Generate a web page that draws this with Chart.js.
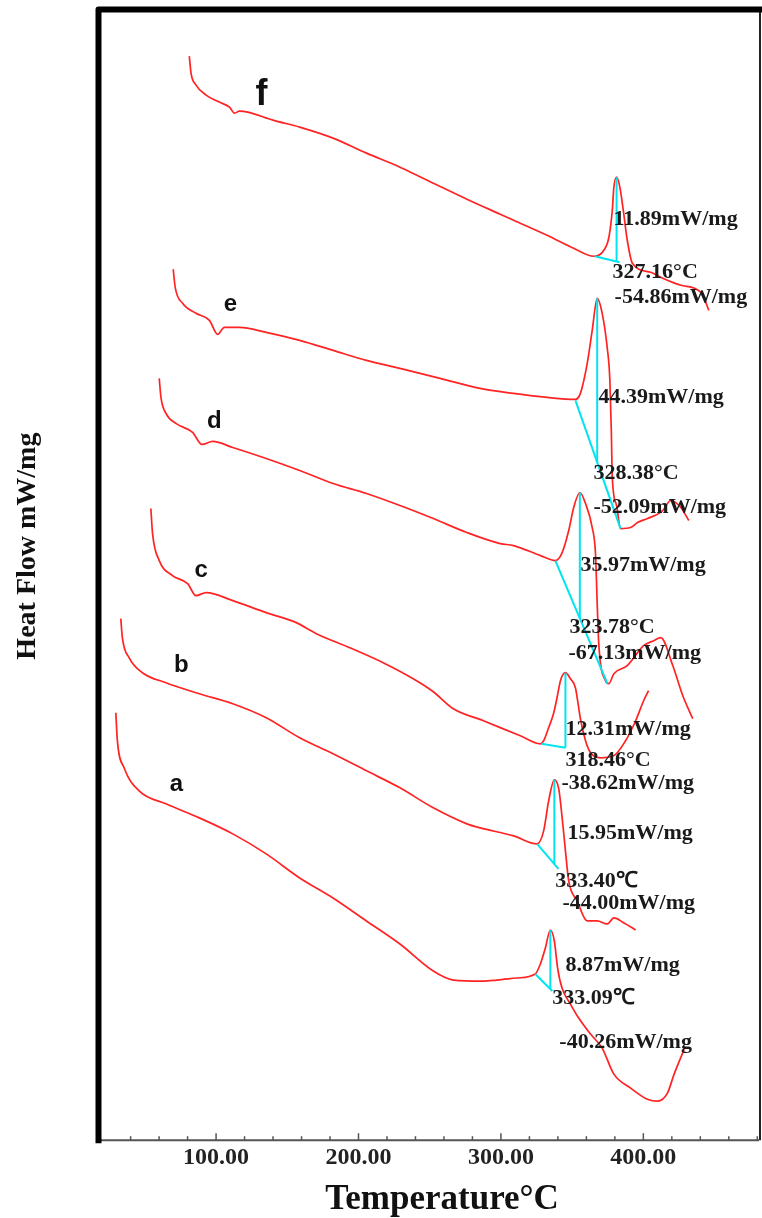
<!DOCTYPE html>
<html>
<head>
<meta charset="utf-8">
<script src="https://cdn.jsdelivr.net/npm/chart.js@4.4.1/dist/chart.umd.min.js"></script>
<style>
	html, body { margin: 0; padding: 0; background: #fff; }
	#dsc { display: block; }
</style>
</head>
<body>
<canvas id="dsc" width="762" height="1218"></canvas>
<script>
// DSC curves a-f, temperature (deg C) vs heat flow (arbitrary offset units)
var tempF = [81.2, 82.4, 85.9, 93.0, 102.3, 109.4, 112.9, 116.4, 122.3, 139.9, 158.7, 182.1, 205.6, 229.1, 252.5, 276.1, 299.5, 308.9, 332.4, 351.1, 365.2, 372.3, 375.8, 378.2, 379.3, 381.2, 383.5, 385.9, 388.7, 392.3, 405.1, 413.6, 426.3, 440.4, 446.0];
var flowF = [1083, 1066, 1054, 1044, 1037, 1032, 1026, 1028, 1027, 1019, 1012, 1001, 986, 972, 956, 940, 925, 919, 904, 891, 883, 889, 902, 929, 952, 962, 952, 929, 899, 876, 867, 861, 854, 847, 829];

var tempE = [69.9, 71.3, 76.5, 85.9, 95.3, 101.1, 105.8, 116.4, 135.2, 158.7, 182.1, 205.6, 229.1, 257.3, 285.4, 308.9, 332.4, 352.3, 355.8, 360.6, 364.1, 367.6, 371.1, 374.6, 376.5, 377.5, 378.2, 381.2, 384.0, 391.0, 395.9, 402.9, 413.6, 419.2, 426.3, 431.9];
var flowE = [870, 852, 836, 826, 819, 805, 812, 812, 807, 799, 789, 779, 771, 761, 751, 746, 742, 740, 746, 776, 809, 841, 826, 792, 759, 709, 662, 634, 611, 612, 617, 621, 629, 639, 632, 619];

var tempD = [60.1, 61.3, 64.8, 71.8, 83.5, 90.1, 97.6, 111.7, 135.2, 158.7, 182.1, 205.6, 229.1, 252.5, 276.1, 299.5, 308.9, 327.7, 338.2, 343.0, 347.6, 351.1, 355.4, 359.4, 364.1, 366.4, 367.6, 368.7, 373.4, 375.7, 379.3, 388.7, 400.2, 407.3, 412.2, 420.7, 427.7, 434.7];
var flowD = [761, 742, 726, 716, 707, 695, 698, 692, 681, 669, 656, 646, 634, 621, 607, 596, 594, 584, 579, 587, 609, 632, 647, 636, 612, 586, 536, 496, 459, 456, 466, 474, 494, 499, 502, 474, 444, 421];

var tempC = [54.2, 55.4, 60.1, 69.4, 80.0, 85.9, 93.0, 111.7, 135.2, 156.3, 170.4, 193.9, 217.3, 240.8, 252.5, 266.6, 287.7, 313.6, 327.7, 330.0, 333.5, 336.9, 339.4, 341.8, 345.3, 348.8, 352.3, 354.4, 355.8, 359.4, 362.9, 369.9, 379.1, 387.5, 394.6, 400.2, 403.7];
var flowC = [631, 606, 579, 564, 556, 544, 547, 539, 527, 517, 506, 492, 477, 459, 448, 431, 419, 404, 396, 399, 412, 426, 442, 459, 467, 461, 452, 434, 421, 399, 387, 382, 384, 399, 419, 439, 449];

var tempB = [33.1, 34.2, 38.9, 48.3, 64.8, 88.2, 111.7, 135.2, 158.7, 182.1, 205.6, 229.1, 252.5, 276.1, 285.4, 308.9, 325.4, 330.0, 333.5, 337.5, 340.6, 343.0, 345.3, 347.6, 353.5, 360.6, 367.6, 374.6, 379.3, 386.4, 394.6];
var flowB = [521, 502, 482, 467, 457, 446, 436, 422, 402, 386, 369, 352, 332, 316, 312, 304, 296, 309, 339, 360, 351, 322, 289, 259, 239, 219, 219, 216, 222, 217, 210];

var tempA = [29.6, 30.7, 35.4, 46.0, 64.8, 88.2, 111.7, 135.2, 158.7, 182.1, 205.6, 229.1, 252.5, 266.6, 287.7, 297.1, 311.2, 324.1, 327.7, 331.2, 334.7, 337.5, 339.8, 342.9, 348.8, 354.6, 362.9, 371.1, 379.3, 391.1, 402.8, 409.9, 416.9, 421.6, 428.7];
var flowA = [427, 399, 372, 349, 336, 322, 306, 286, 262, 242, 219, 196, 169, 160, 159, 160, 162, 166, 176, 192, 210, 199, 172, 152, 136, 122, 106, 92, 66, 52, 41, 39, 47, 66, 91];

// peak construction lines (baseline + peak drop), [T1, T2] / [v1, v2]
var baseT = [[365.9, 383.3], [352.3, 384.0], [338.2, 374.8], [328.4, 345.3], [325.4, 340.4], [324.1, 336.1]];
var baseV = [[883, 877], [739, 611], [579, 456], [396, 392], [296, 271], [166, 149]];
var dropT = [381.2, 367.6, 355.4, 345.3, 337.5, 334.7];
var dropV = [[962, 878], [841, 677], [647, 521], [467, 392], [360, 276], [210, 151]];

var curveNames = ['f', 'e', 'd', 'c', 'b', 'a'];
var nameT = [131.9, 110.1, 98.8, 89.6, 75.6, 72.1];
var nameV = [1044, 835, 718, 569, 474, 355];

var noteText = ['11.89mW/mg', '327.16°C', '-54.86mW/mg',
	'44.39mW/mg', '328.38°C', '-52.09mW/mg',
	'35.97mW/mg', '323.78°C', '-67.13mW/mg',
	'12.31mW/mg', '318.46°C', '-38.62mW/mg',
	'15.95mW/mg', '333.40℃', '-44.00mW/mg',
	'8.87mW/mg', '333.09℃', '-40.26mW/mg'];
var noteT = [379.1, 378.4, 379.8, 368.5, 365.0, 365.0, 355.8, 348.1, 347.4, 345.3, 345.3, 342.5, 346.7, 338.2, 343.2, 345.3, 336.1, 341.0];
var noteV = [920, 867, 842, 742, 666, 632, 574, 512, 486, 410, 379, 357, 307, 259, 237, 175, 142, 98];

var xTicks = [100, 200, 300, 400];

var RED = 'rgb(255, 35, 35)';
var CYAN = 'rgb(0, 228, 240)';
var SERIF = '"Liberation Serif", "Times New Roman", serif';

function pts(xs, ys) {
	return xs.map(function (x, i) { return { x: x, y: ys[i] }; });
}

var curves = [[tempF, flowF], [tempE, flowE], [tempD, flowD], [tempC, flowC], [tempB, flowB], [tempA, flowA]];
var datasets = [];

curves.forEach(function (c, i) {
	datasets.push({
		label: curveNames[i],
		data: pts(c[0], c[1]),
		borderColor: RED,
		borderWidth: 1.7,
		pointRadius: 0,
		cubicInterpolationMode: 'monotone',
		order: 2
	});
});

baseT.forEach(function (t, i) {
	datasets.push({
		data: pts(t, baseV[i]),
		borderColor: CYAN,
		borderWidth: 2,
		pointRadius: 0,
		order: 1
	});
	datasets.push({
		data: pts([dropT[i], dropT[i]], dropV[i]),
		borderColor: CYAN,
		borderWidth: 2,
		pointRadius: 0,
		order: 1
	});
});

// frame, inward ticks, axis titles and text labels
var framePlugin = {
	id: 'frame',
	afterDatasetsDraw: function (chart) {
		var ctx = chart.ctx;
		var a = chart.chartArea;
		var sx = chart.scales.x;
		var sy = chart.scales.y;
		ctx.save();

		// bottom axis with ticks pointing up
		ctx.strokeStyle = '#555';
		ctx.lineWidth = 2;
		ctx.beginPath();
		ctx.moveTo(a.left, a.bottom);
		ctx.lineTo(a.right, a.bottom);
		ctx.stroke();
		ctx.lineWidth = 1.5;
		for (var t = 40; t <= 480; t += 20) {
			var px = sx.getPixelForValue(t);
			var len = (t % 100 === 0) ? 7 : 4;
			ctx.beginPath();
			ctx.moveTo(px, a.bottom);
			ctx.lineTo(px, a.bottom - len);
			ctx.stroke();
		}

		// right edge
		ctx.strokeStyle = '#222';
		ctx.lineWidth = 2;
		ctx.beginPath();
		ctx.moveTo(a.right + 1, a.top);
		ctx.lineTo(a.right + 1, a.bottom);
		ctx.stroke();

		// thick left and top edges
		ctx.strokeStyle = '#000';
		ctx.lineWidth = 6;
		ctx.lineJoin = 'round';
		ctx.beginPath();
		ctx.moveTo(a.left - 0.5, a.bottom + 3);
		ctx.lineTo(a.left - 0.5, a.top - 0.5);
		ctx.lineTo(chart.width, a.top - 0.5);
		ctx.stroke();

		// axis titles
		ctx.fillStyle = '#111';
		ctx.textAlign = 'center';
		ctx.textBaseline = 'alphabetic';
		ctx.font = 'bold 35px ' + SERIF;
		ctx.fillText('Temperature°C', (a.left + a.right) / 2 + 13, chart.height - 9);

		ctx.save();
		ctx.translate(28, (a.top + a.bottom) / 2 - 29);
		ctx.rotate(-Math.PI / 2);
		ctx.font = 'bold 28px ' + SERIF;
		ctx.textBaseline = 'middle';
		ctx.fillText('Heat Flow mW/mg', 0, 0);
		ctx.restore();

		// curve letters
		ctx.textBaseline = 'middle';
		curveNames.forEach(function (n, i) {
			ctx.font = 'bold ' + (n === 'f' ? 36 : 24) + 'px "Liberation Sans", Arial, sans-serif';
			ctx.fillText(n, sx.getPixelForValue(nameT[i]), sy.getPixelForValue(nameV[i]));
		});

		// peak notes
		ctx.font = 'bold 22px ' + SERIF;
		ctx.textAlign = 'left';
		ctx.fillStyle = '#1a1a1a';
		noteText.forEach(function (s, i) {
			ctx.fillText(s, sx.getPixelForValue(noteT[i]), sy.getPixelForValue(noteV[i]));
		});
		ctx.restore();
	}
};

new Chart(document.getElementById('dsc').getContext('2d'), {
	type: 'line',
	data: { datasets: datasets },
	options: {
		responsive: false,
		animation: false,
		layout: { padding: { left: 99, top: 10, right: 3, bottom: 43 } },
		plugins: {
			legend: { display: false },
			tooltip: { enabled: false }
		},
		scales: {
			x: {
				type: 'linear',
				min: 17.8,
				max: 481.2,
				grid: { display: false, drawTicks: false },
				border: { display: false },
				afterBuildTicks: function (scale) {
					scale.ticks = xTicks.map(function (v) { return { value: v }; });
				},
				ticks: {
					padding: 3,
					color: '#222',
					font: { family: SERIF, size: 24, weight: 'bold' },
					callback: function (v) { return Number(v).toFixed(2); }
				}
			},
			y: {
				display: false,
				min: 0,
				max: 1129
			}
		}
	},
	plugins: [framePlugin]
});
</script>
</body>
</html>
